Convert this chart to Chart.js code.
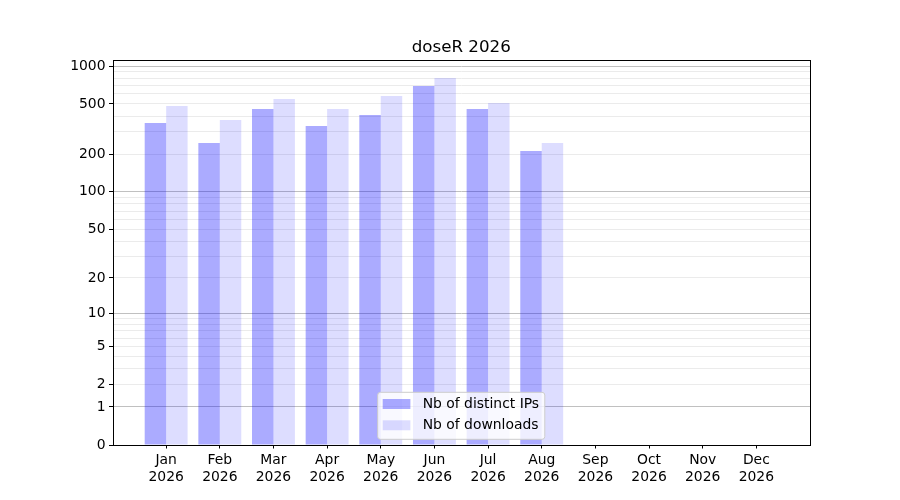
<!DOCTYPE html>
<html>
<head>
<meta charset="utf-8">
<script src="https://cdn.jsdelivr.net/npm/chart.js@4.4.1/dist/chart.umd.min.js"></script>
<style>
  html, body { margin: 0; padding: 0; background: #fff; }
</style>
</head>
<body>
<canvas id="doseChart" width="900" height="500"></canvas>
<script>
// data
var months = ['Jan', 'Feb', 'Mar', 'Apr', 'May', 'Jun', 'Jul', 'Aug', 'Sep', 'Oct', 'Nov', 'Dec'];
var year = '2026';
var distinctIPs = [354, 245, 456, 335, 409, 695, 456, 212, 0, 0, 0, 0];
var downloads = [482, 373, 548, 456, 579, 804, 509, 245, 0, 0, 0, 0];
var yLabelTicks = [0, 1, 2, 5, 10, 20, 50, 100, 200, 500, 1000];
var yMinorTicks = [3, 4, 6, 7, 8, 9, 30, 40, 60, 70, 80, 90, 300, 400, 600, 700, 800, 900];
var yDarkLines = [1, 10, 100, 1000];
var yMax = 1116;
var chartTitle = 'doseR 2026';

Chart.defaults.font.family = '"DejaVu Sans", sans-serif';
Chart.defaults.color = '#000';

// y axis on log10(1 + v), like the original
class Log1pScale extends Chart.LinearScale {
  buildTicks() {
    return yLabelTicks.concat(yMinorTicks).sort(function (a, b) { return a - b; })
      .map(function (v) { return { value: v }; });
  }
  configure() {
    super.configure();
    this._t0 = Math.log10(1 + this.min);
    this._t1 = Math.log10(1 + this.max);
  }
  getPixelForValue(v) {
    return this.getPixelForDecimal((Math.log10(1 + v) - this._t0) / (this._t1 - this._t0));
  }
  getValueForPixel(p) {
    var d = this.getDecimalForPixel(p);
    return Math.pow(10, this._t0 + d * (this._t1 - this._t0)) - 1;
  }
}
Log1pScale.id = 'log1p';
Log1pScale.defaults = {};
Chart.register(Log1pScale);

function toPoints(arr) {
  return arr.map(function (v, i) { return { x: i, y: v }; });
}

var frame = {
  id: 'frame',
  afterDatasetsDraw: function (chart) {
    var c = chart.ctx, a = chart.chartArea;
    c.save();
    c.strokeStyle = '#000';
    c.lineWidth = 1;
    c.strokeRect(Math.round(a.left) + 0.5, Math.round(a.top) + 0.5,
      Math.round(a.right) - Math.round(a.left), Math.round(a.bottom) - Math.round(a.top));
    c.restore();
  },
  afterDraw: function (chart) {
    var c = chart.ctx, a = chart.chartArea;
    c.save();
    // title
    c.fillStyle = '#000';
    c.font = '16.7px "DejaVu Sans"';
    c.textAlign = 'center';
    c.textBaseline = 'alphabetic';
    c.fillText(chartTitle, (a.left + a.right) / 2, a.top - 8.3);

    // legend, lower center inside the axes
    c.font = '13.9px "DejaVu Sans"';
    var sets = chart.data.datasets;
    var tw = 0;
    sets.forEach(function (d) { tw = Math.max(tw, c.measureText(d.label).width); });
    var w = 5 + 27.7 + 12.3 + tw + 5.7;
    var h = 47;
    var x = (a.left + a.right) / 2 - w / 2;
    var y = a.bottom - 5.7 - h;
    c.beginPath();
    c.roundRect(x, y, w, h, 2.8);
    c.fillStyle = 'rgba(255,255,255,0.8)';
    c.fill();
    c.strokeStyle = '#cccccc';
    c.lineWidth = 1;
    c.stroke();
    c.textAlign = 'left';
    c.textBaseline = 'middle';
    sets.forEach(function (d, i) {
      var py = y + 6.7 + i * 21.3;
      c.fillStyle = d.backgroundColor;
      c.fillRect(x + 5, py, 27.7, 10);
      c.fillStyle = '#000';
      c.fillText(d.label, x + 45, py + 5.5);
    });
    c.restore();
  }
};

var ctx = document.getElementById('doseChart').getContext('2d');
var doseChart = new Chart(ctx, {
  type: 'bar',
  data: {
    datasets: [{
      label: 'Nb of distinct IPs',
      data: toPoints(distinctIPs),
      backgroundColor: 'rgba(0, 0, 255, 0.33)',
      borderWidth: 0
    }, {
      label: 'Nb of downloads',
      data: toPoints(downloads),
      backgroundColor: 'rgba(0, 0, 255, 0.133)',
      borderWidth: 0
    }]
  },
  options: {
    responsive: false,
    animation: false,
    barPercentage: 1.0,
    categoryPercentage: 0.8,
    layout: { padding: { top: 60, right: 90, left: 0, bottom: 0 } },
    scales: {
      x: {
        type: 'linear',
        min: -1,
        max: 12,
        offset: false,
        afterFit: function (s) { s.height = 55; },
        afterBuildTicks: function (s) {
          s.ticks = months.map(function (m, i) { return { value: i }; });
        },
        grid: { display: true, drawOnChartArea: false, offset: false, tickLength: 3.5, tickColor: '#000', tickWidth: 1 },
        border: { display: false },
        ticks: {
          autoSkip: false,
          maxRotation: 0,
          padding: 3.5,
          font: { size: 13.9 },
          color: '#000',
          callback: function (v) { return [months[v], year]; }
        }
      },
      y: {
        type: 'log1p',
        min: 0,
        max: yMax,
        afterFit: function (s) { s.width = 112.5; },
        grid: {
          color: function (c) {
            var v = c.tick ? c.tick.value : null;
            if (v === 0) return 'rgba(0,0,0,0)';
            return yDarkLines.indexOf(v) >= 0 ? '#c0c0c0' : '#ebebeb';
          },
          tickColor: function (c) {
            var v = c.tick ? c.tick.value : null;
            return yLabelTicks.indexOf(v) >= 0 ? '#000' : 'rgba(0,0,0,0)';
          },
          lineWidth: 1,
          tickLength: 3.5
        },
        border: { display: false },
        ticks: {
          autoSkip: false,
          padding: 3.5,
          font: { size: 13.9 },
          color: '#000',
          callback: function (v) { return yLabelTicks.indexOf(v) >= 0 ? String(v) : ''; }
        }
      }
    },
    plugins: {
      legend: { display: false },
      title: { display: false },
      tooltip: { enabled: false }
    }
  },
  plugins: [frame]
});
</script>
</body>
</html>
